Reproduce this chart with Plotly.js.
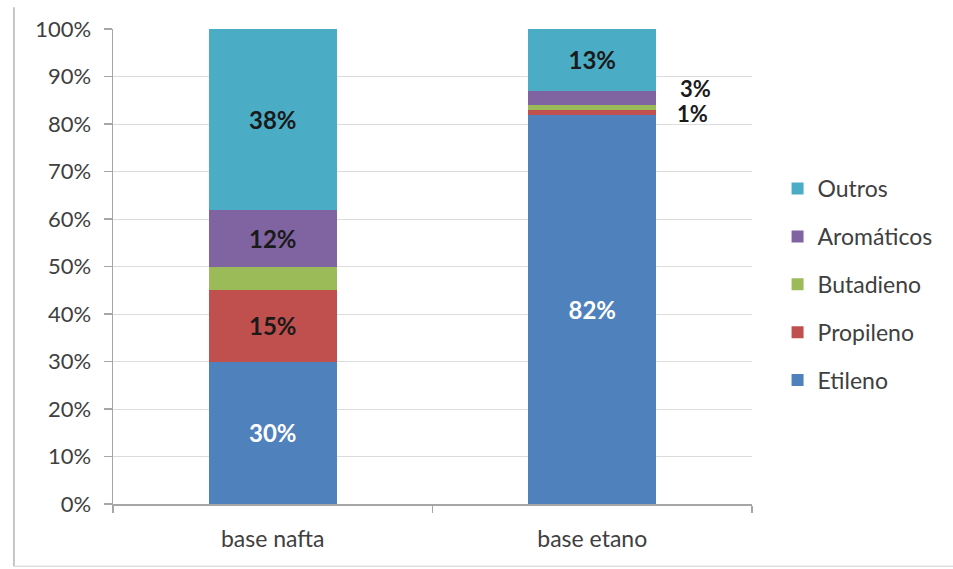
<!DOCTYPE html>
<html>
<head>
<meta charset="utf-8">
<script src="https://cdn.plot.ly/plotly-3.0.1.min.js"></script>
<style>html,body{margin:0;padding:0;background:#fff;}#chart{width:953px;height:569px;}</style>
</head>
<body>
<div id="chart"></div>
<script>
const categories = ['base nafta', 'base etano'];
const seriesNames = ['Etileno', 'Propileno', 'Butadieno', 'Aromáticos', 'Outros'];
const etileno = [30, 82];
const propileno = [15, 1];
const butadieno = [5, 1];
const aromaticos = [12, 3];
const outros = [38, 13];
const insideLabels = {
  Etileno: ['30%', '82%'],
  Propileno: ['15%', ''],
  Butadieno: ['', ''],
  'Aromáticos': ['12%', ''],
  Outros: ['38%', '13%']
};
const colors = ['#4F81BD', '#C0504D', '#9BBB59', '#8064A2', '#4BACC6'];

const values = [etileno, propileno, butadieno, aromaticos, outros];
const FONT = 'Lato, "Open Sans", sans-serif';

const traces = seriesNames.map((name, i) => ({
  type: 'bar',
  name: name,
  x: categories,
  y: values[i],
  legendgroup: 'g' + i,
  legendrank: seriesNames.length - i,
  marker: {color: colors[i]},
  text: insideLabels[name],
  textposition: 'inside',
  insidetextanchor: 'middle',
  textangle: 0,
  constraintext: 'none',
  textfont: {family: FONT, size: 24, weight: 'bold', color: name === 'Etileno' ? '#ffffff' : '#1a1a1a'},
  hoverinfo: 'x+y+name'
}));

// outside labels for small segments of base etano
const base1 = etileno[1] + propileno[1];
const aromMid = base1 + butadieno[1] + aromaticos[1] / 2;
const butMid = base1 + butadieno[1] / 2;
const annotations = [
  {x: categories[1], y: aromMid, text: '<b>' + aromaticos[1] + '%</b>', showarrow: false, xshift: 103, yshift: 9,
   font: {family: FONT, size: 22, color: '#1a1a1a'}},
  {x: categories[1], y: butMid, text: '<b>' + butadieno[1] + '%</b>', showarrow: false, xshift: 100, yshift: -6,
   font: {family: FONT, size: 22, color: '#1a1a1a'}}
];

const shapes = [
  {type: 'line', xref: 'paper', yref: 'paper', x0: -0.155, x1: -0.155, y0: 1.046, y1: -0.131,
   line: {color: '#b5b5b5', width: 1.5}},
  {type: 'line', xref: 'paper', yref: 'paper', x0: -0.155, x1: 1.32, y0: -0.131, y1: -0.131,
   line: {color: '#d0d0d0', width: 1}}
];

const layout = {
  width: 953, height: 569,
  margin: {l: 113, r: 201, t: 29, b: 65},
  paper_bgcolor: '#ffffff', plot_bgcolor: '#ffffff',
  barmode: 'stack',
  bargap: 0.6,
  font: {family: FONT, size: 18, color: '#404040'},
  showlegend: true,
  legend: {
    x: 1.04, y: 0.462, xanchor: 'left', yanchor: 'middle',
    traceorder: 'grouped', tracegroupgap: 15,
    font: {family: FONT, size: 23, color: '#404040'},
    itemwidth: 30
  },
  xaxis: {
    type: 'category',
    tickson: 'boundaries',
    ticks: 'outside', ticklen: 7, tickcolor: '#a6a6a6', tickwidth: 1.5,
    showline: true, linecolor: '#a6a6a6', linewidth: 1.5,
    showgrid: false,
    ticklabelstandoff: 14,
    tickfont: {family: FONT, size: 23, color: '#404040'}
  },
  yaxis: {
    range: [0, 100], dtick: 10, ticksuffix: '%',
    ticks: 'outside', ticklen: 8, tickcolor: '#a6a6a6', tickwidth: 1.5,
    showline: true, linecolor: '#a6a6a6', linewidth: 1.5,
    showgrid: true, gridcolor: '#dcdcdc', gridwidth: 1,
    zeroline: false,
    ticklabelstandoff: 8,
    tickfont: {family: FONT, size: 22, color: '#404040'}
  },
  annotations: annotations,
  shapes: shapes
};

Plotly.newPlot('chart', traces, layout, {displayModeBar: false, staticPlot: true});
</script>
</body>
</html>
